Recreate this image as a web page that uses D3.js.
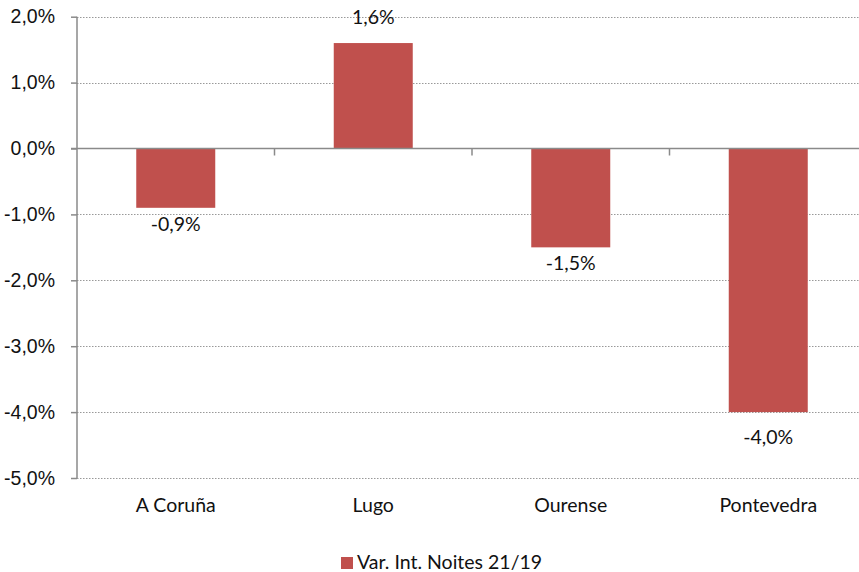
<!DOCTYPE html>
<html>
<head>
<meta charset="utf-8">
<script src="https://cdn.jsdelivr.net/npm/d3@7"></script>
<style>
  body { margin: 0; background: #fff; }
  svg { display: block; font-family: Lato, "Liberation Sans", sans-serif; }
  .grid line { stroke: #999; stroke-dasharray: 1.5,1.5; }
  .axis path, .axis line { stroke: #8a8a8a; stroke-width: 1.5; }
  .axis text { fill: #111; font-size: 19.5px; }
  .label { fill: #111; font-size: 19.5px; }
</style>
</head>
<body>
<svg id="chart" width="859" height="572"></svg>
<script>
// data
var categories = ["A Coruña", "Lugo", "Ourense", "Pontevedra"];
var values = [-0.009, 0.016, -0.015, -0.040];
var yTicks = [0.02, 0.01, 0, -0.01, -0.02, -0.03, -0.04, -0.05];
var seriesName = "Var. Int. Noites 21/19";
var barColor = "#C0504D";

var locale = d3.formatLocale({ decimal: ",", thousands: ".", grouping: [3], currency: ["", " €"], minus: "-" });
var pct = locale.format(".1%");

var svg = d3.select("#chart");
var plotLeft = 77, plotRight = 867, plotTop = 16.7, plotBottom = 478;

var y = d3.scaleLinear().domain([-0.05, 0.02]).range([plotBottom, plotTop]);

var x = d3.scaleBand().domain(categories).range([plotLeft, plotRight])
    .paddingInner(0.6).paddingOuter(0.3);

// band scale with no padding, used for category separator ticks
var xCat = d3.scaleBand().domain(categories).range([plotLeft, plotRight]);

// dotted gridlines (not at zero, the axis sits there)
svg.append("g")
    .attr("class", "grid")
  .selectAll("line")
  .data(yTicks.filter(function(d) { return d !== 0; }))
  .enter().append("line")
    .attr("x1", plotLeft)
    .attr("x2", plotRight)
    .attr("y1", function(d) { return Math.round(y(d)) + 0.5; })
    .attr("y2", function(d) { return Math.round(y(d)) + 0.5; });

// bars
svg.append("g")
  .selectAll("rect")
  .data(values)
  .enter().append("rect")
    .attr("x", function(d, i) { return x(categories[i]); })
    .attr("width", x.bandwidth())
    .attr("y", function(d) { return y(Math.max(0, d)); })
    .attr("height", function(d) { return Math.abs(y(d) - y(0)); })
    .attr("fill", barColor);

// y axis
var yAxis = d3.axisLeft(y)
    .tickValues(yTicks)
    .tickSize(6)
    .tickPadding(16)
    .tickFormat(pct);

svg.append("g")
    .attr("class", "axis")
    .attr("transform", "translate(" + plotLeft + ",0)")
    .call(yAxis)
    .call(function(g) { g.select(".domain").attr("d", "M0," + plotTop + "V" + plotBottom); });

// x axis on the zero line, ticks between categories
var zeroY = y(0);
var xAxisG = svg.append("g").attr("class", "axis");
xAxisG.append("line")
    .attr("x1", plotLeft - 6).attr("x2", plotRight)
    .attr("y1", zeroY).attr("y2", zeroY);
xAxisG.selectAll("line.sep")
  .data(categories.slice(1))
  .enter().append("line")
    .attr("class", "sep")
    .attr("x1", function(d) { return xCat(d); })
    .attr("x2", function(d) { return xCat(d); })
    .attr("y1", zeroY)
    .attr("y2", zeroY + 7);

// category labels under the plot
svg.append("g")
  .selectAll("text")
  .data(categories)
  .enter().append("text")
    .attr("class", "label")
    .attr("x", function(d) { return x(d) + x.bandwidth() / 2; })
    .attr("y", 511.5)
    .attr("text-anchor", "middle")
    .text(function(d) { return d; });

// value labels (the deepest one sits a bit lower, as in the source)
svg.append("g")
  .selectAll("text")
  .data(values)
  .enter().append("text")
    .attr("class", "label")
    .attr("x", function(d, i) { return x(categories[i]) + x.bandwidth() / 2; })
    .attr("y", function(d) {
      if (d >= 0) return y(d) - 19;
      return y(d) + (d <= -0.04 ? 32 : 23);
    })
    .attr("text-anchor", "middle")
    .text(function(d) { return pct(d); });

// legend
var legend = svg.append("g").attr("transform", "translate(341,557)");
legend.append("rect")
    .attr("width", 12).attr("height", 12)
    .attr("fill", barColor);
legend.append("text")
    .attr("class", "label")
    .attr("x", 16)
    .attr("y", 12)
    .text(seriesName);
</script>
</body>
</html>
